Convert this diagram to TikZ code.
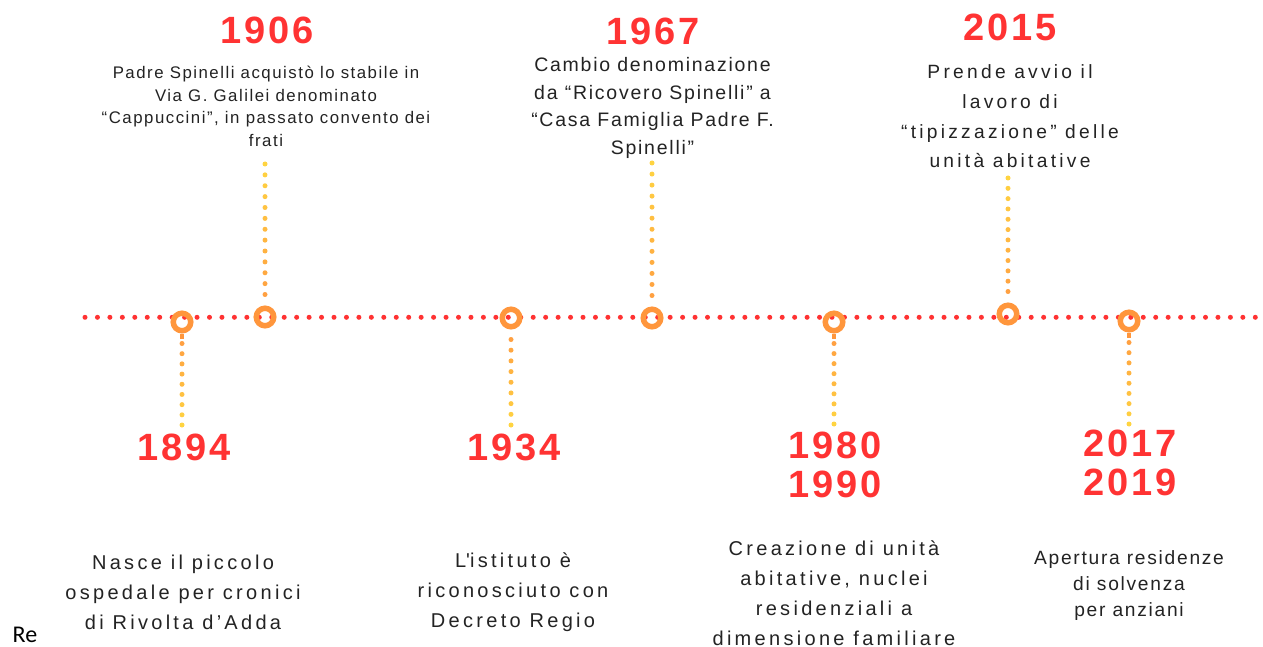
\documentclass[tikz,border=0pt]{standalone}
\usepackage{fontspec}
\setmainfont{Liberation Sans}
\newfontfamily\refont{Carlito}
\usetikzlibrary{calc}
\definecolor{yearred}{RGB}{255,51,51}
\definecolor{linered}{RGB}{255,50,50}
\definecolor{ringor}{RGB}{255,150,60}
\definecolor{pinor}{RGB}{255,160,65}
\definecolor{piny}{RGB}{255,212,65}
\definecolor{txt}{RGB}{35,35,35}
\newcommand\pindots[3]{%
  \foreach \i in {0,...,#3}{%
    \pgfmathtruncatemacro\pc{100-100*\i/#3}%
    \fill[pinor!\pc!piny] ($(#1)!\i/#3!(#2)$) circle[radius=2.5pt];
  }}
\begin{document}
\begin{tikzpicture}[x=1pt,y=-1pt,
  mainline/.style={draw=linered, line width=5pt, line cap=round, dash pattern=on 0pt off 12.45pt},
  ring/.style={circle, draw=ringor, line width=5.5pt, minimum size=17.5pt, inner sep=0pt},
  pintail/.style={draw=ringor, line width=3.5pt},
  yr/.style={font=\bfseries\fontsize{38}{39}\selectfont\addfontfeature{LetterSpace=8}, text=yearred, align=center, inner sep=0pt},
  dA/.style={font=\fontsize{16.8}{22.5}\selectfont\addfontfeature{LetterSpace=9}, text=txt, align=center, inner sep=0pt},
  dB/.style={font=\fontsize{19.5}{27.5}\selectfont\addfontfeature{LetterSpace=9}, text=txt, align=center, inner sep=0pt},
  dC/.style={font=\fontsize{19.2}{29.7}\selectfont\addfontfeature{LetterSpace=17}, text=txt, align=center, inner sep=0pt},
  dD/.style={font=\fontsize{20}{30}\selectfont\addfontfeature{LetterSpace=16.5}, text=txt, align=center, inner sep=0pt},
  dE/.style={font=\fontsize{19.2}{26}\selectfont\addfontfeature{LetterSpace=9}, text=txt, align=center, inner sep=0pt}
]
\useasboundingbox[fill=white] (0,0) rectangle (1263,647);

% main dotted line
\coordinate (L) at (85,317.3);
\coordinate (R) at (1255.5,317.3);
\draw[mainline] (L) -- (R);

% rings
\node[ring] (c1894) at (182,322) {};
\node[ring] (c1906) at (265,317) {};
\node[ring] (c1934) at (511,318) {};
\node[ring] (c1967) at (652,318) {};
\node[ring] (c1980) at (834,322) {};
\node[ring] (c2015) at (1008,314) {};
\node[ring] (c2017) at (1129,321) {};

% pin tails
\draw[pintail] (c1894.south) -- ++(0,5);
\draw[pintail] (c1980.south) -- ++(0,5);
\draw[pintail] (c2017.south) -- ++(0,5);

% vertical dotted connectors
\coordinate (s1906) at ($(c1906.north)+(0,-11)$);
\coordinate (e1906) at (265,164);
\coordinate (s1967) at ($(c1967.north)+(0,-11)$);
\coordinate (e1967) at (652,163);
\coordinate (s2015) at ($(c2015.north)+(0,-11)$);
\coordinate (e2015) at (1008,178);
\coordinate (s1894) at ($(c1894.south)+(0,10)$);
\coordinate (e1894) at (182,425);
\coordinate (s1934) at ($(c1934.south)+(0,10)$);
\coordinate (e1934) at (511,425);
\coordinate (s1980) at ($(c1980.south)+(0,10)$);
\coordinate (e1980) at (834,424);
\coordinate (s2017) at ($(c2017.south)+(0,10)$);
\coordinate (e2017) at (1129,424);
\pindots{s1906}{e1906}{12}
\pindots{s1967}{e1967}{12}
\pindots{s2015}{e2015}{11}
\pindots{s1894}{e1894}{8}
\pindots{s1934}{e1934}{8}
\pindots{s1980}{e1980}{8}
\pindots{s2017}{e2017}{8}

% years
\node[yr] (y1906) at (267,30) {1906};
\node[yr] (y1967) at (653,31) {1967};
\node[yr] (y2015) at (1010,27) {2015};
\node[yr] (y1894) at (184,447) {1894};
\node[yr] (y1934) at (514,447) {1934};
\node[yr] (y1980) at (835,464.5) {1980\\1990};
\node[yr] (y2017) at (1130,462.5) {2017\\2019};

% descriptions
\node[dA] (t1906) at (266,106.5) {Padre Spinelli acquistò lo stabile in\\Via G. Galilei denominato\\“Cappuccini”, in passato convento dei\\frati};
\node[dB] (t1967) at (652.5,108) {Cambio denominazione\\da “Ricovero Spinelli” a\\“Casa Famiglia Padre F.\\Spinelli”};
\node[dC] (t2015) at (1010,116.5) {Prende avvio il\\lavoro di\\“tipizzazione” delle\\unità abitative};
\node[dD] (t1894) at (183,592) {Nasce il piccolo\\ospedale per cronici\\di Rivolta d’Adda};
\node[dD] (t1934) at (513,592) {L\textquotesingle istituto è\\riconosciuto con\\Decreto Regio};
\node[dD] (t1980) at (834,593) {Creazione di unità\\abitative, nuclei\\residenziali a\\dimensione familiare};
\node[dE] (t2017) at (1129,586) {Apertura residenze\\di solvenza\\per anziani};

\node[font=\refont\fontsize{24}{28}\selectfont, text=black, inner sep=0pt] (re) at (25,635) {Re};
\end{tikzpicture}
\end{document}
